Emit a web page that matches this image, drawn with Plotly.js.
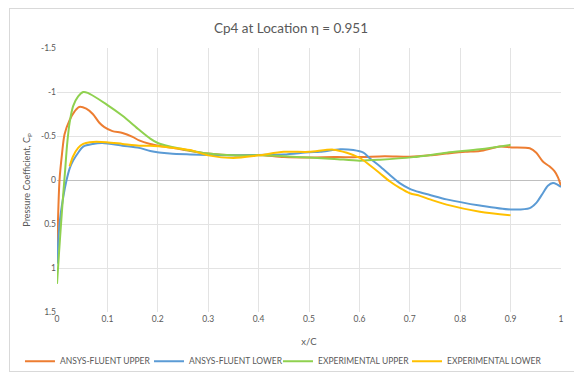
<!DOCTYPE html>
<html>
<head>
<meta charset="utf-8">
<script src="https://cdn.plot.ly/plotly-3.0.1.min.js"></script>
<style>
html,body{margin:0;padding:0;background:#fff;}
#chart{width:574px;height:375px;position:relative;}
#frame{position:absolute;left:9px;top:8px;width:570px;height:362px;border:1px solid #d9d9d9;pointer-events:none;}
</style>
</head>
<body>
<div style="position:relative;width:574px;height:375px;overflow:hidden;">
<div id="chart"></div>
<div id="frame"></div>
</div>
<script>
const fluentUpperX = [0, 0.002, 0.005, 0.01, 0.015, 0.025, 0.035, 0.044, 0.058, 0.071, 0.084, 0.094, 0.11, 0.13, 0.15, 0.163, 0.185, 0.202, 0.229, 0.264, 0.3, 0.35, 0.4, 0.45, 0.5, 0.55, 0.6, 0.65, 0.7, 0.74, 0.773, 0.81, 0.839, 0.879, 0.902, 0.938, 0.951, 0.964, 0.977, 0.987, 0.994, 1.0];
const fluentUpperCp = [0.91, 0.45, 0.0, -0.3, -0.52, -0.68, -0.78, -0.83, -0.81, -0.75, -0.65, -0.6, -0.555, -0.535, -0.49, -0.45, -0.41, -0.39, -0.365, -0.33, -0.3, -0.28, -0.285, -0.26, -0.255, -0.26, -0.26, -0.27, -0.265, -0.28, -0.3, -0.32, -0.33, -0.38, -0.37, -0.36, -0.31, -0.21, -0.155, -0.1, -0.03, 0.07];

const fluentLowerX = [0, 0.005, 0.0125, 0.019, 0.025, 0.032, 0.042, 0.052, 0.071, 0.09, 0.13, 0.163, 0.185, 0.224, 0.264, 0.3, 0.35, 0.4, 0.45, 0.5, 0.522, 0.562, 0.588, 0.608, 0.62, 0.64, 0.66, 0.68, 0.7, 0.72, 0.74, 0.773, 0.839, 0.9, 0.938, 0.951, 0.964, 0.974, 0.984, 0.992, 1.0];
const fluentLowerCp = [0.95, 0.5, 0.19, 0.0, -0.13, -0.22, -0.31, -0.38, -0.41, -0.42, -0.39, -0.365, -0.33, -0.30, -0.29, -0.285, -0.28, -0.285, -0.29, -0.315, -0.32, -0.35, -0.34, -0.31, -0.25, -0.16, -0.06, 0.035, 0.10, 0.14, 0.17, 0.22, 0.29, 0.335, 0.32, 0.26, 0.15, 0.065, 0.035, 0.05, 0.08];

const expUpperX = [0, 0.004, 0.008, 0.0125, 0.016, 0.02, 0.025, 0.032, 0.042, 0.052, 0.061, 0.098, 0.13, 0.163, 0.185, 0.2, 0.224, 0.25, 0.3, 0.35, 0.4, 0.45, 0.5, 0.55, 0.6, 0.641, 0.707, 0.773, 0.839, 0.9];
const expUpperCp = [1.18, 0.83, 0.5, 0.15, -0.1, -0.4, -0.65, -0.84, -0.95, -1.0, -0.99, -0.86, -0.73, -0.57, -0.47, -0.42, -0.38, -0.35, -0.3, -0.28, -0.28, -0.27, -0.255, -0.24, -0.22, -0.23, -0.26, -0.31, -0.35, -0.4];

const expLowerX = [0.025, 0.032, 0.042, 0.052, 0.065, 0.098, 0.13, 0.163, 0.185, 0.224, 0.264, 0.3, 0.35, 0.4, 0.45, 0.5, 0.548, 0.575, 0.601, 0.62, 0.64, 0.66, 0.68, 0.7, 0.72, 0.74, 0.773, 0.839, 0.9];
const expLowerCp = [-0.155, -0.27, -0.365, -0.41, -0.43, -0.43, -0.41, -0.39, -0.39, -0.37, -0.34, -0.28, -0.25, -0.28, -0.32, -0.32, -0.345, -0.31, -0.25, -0.17, -0.08, 0.015, 0.09, 0.15, 0.18, 0.22, 0.28, 0.36, 0.4];

const seriesNames = ["ANSYS-FLUENT UPPER", "ANSYS-FLUENT LOWER", "EXPERIMENTAL UPPER", "EXPERIMENTAL LOWER"];
const xTicks = [0, 0.1, 0.2, 0.3, 0.4, 0.5, 0.6, 0.7, 0.8, 0.9, 1];
const xTickText = ["0", "0.1", "0.2", "0.3", "0.4", "0.5", "0.6", "0.7", "0.8", "0.9", "1"];
const yTicks = [-1.5, -1, -0.5, 0, 0.5, 1, 1.5];
const yTickText = ["-1.5", "-1", "-0.5", "0", "0.5", "1", "1.5"];

const colors = ["#ED7D31", "#5B9BD5", "#8FD14F", "#FFC000"];
const xs = [fluentUpperX, fluentLowerX, expUpperX, expLowerX];
const ys = [fluentUpperCp, fluentLowerCp, expUpperCp, expLowerCp];
const legendIds = ['legend', 'legend2', 'legend3', 'legend4'];
const legendLeft = [0.0348, 0.2596, 0.4843, 0.7091];

const traces = seriesNames.map((n, i) => ({
  x: xs[i], y: ys[i], name: n, type: 'scatter', mode: 'lines', legend: legendIds[i],
  line: {color: colors[i], width: 2, shape: 'spline', smoothing: 0.8}
}));

const font = "Lato, 'Open Sans', sans-serif";
const layout = {
  width: 574, height: 375,
  margin: {l: 57, r: 13, t: 48, b: 63},
  paper_bgcolor: 'rgba(0,0,0,0)', plot_bgcolor: 'rgba(0,0,0,0)',
  font: {family: font, color: '#595959', size: 9},
  title: {text: 'Cp4 at Location η = 0.951', font: {size: 13.5, color: '#595959', family: font}, x: 0.507, xanchor: 'center', y: 0.925, yanchor: 'middle'},
  xaxis: {
    range: [0, 1], tickvals: xTicks, ticktext: xTickText,
    showgrid: true, gridcolor: '#e3e3e3', gridwidth: 1,
    zeroline: false, showline: false, ticks: '',
    tickfont: {size: 8.5, color: '#595959'},
    title: {text: 'x/C', font: {size: 9.5, color: '#595959'}, standoff: 19},
    fixedrange: true
  },
  yaxis: {
    range: [1.5, -1.5], tickvals: yTicks, ticktext: yTickText,
    showgrid: true, gridcolor: '#e3e3e3', gridwidth: 1,
    zeroline: true, zerolinecolor: '#bfbfbf', zerolinewidth: 1,
    showline: false, ticks: '',
    tickfont: {size: 8.5, color: '#595959'},
    title: {text: 'Pressure Coefficient, C<sub>P</sub>', font: {size: 9, color: '#595959'}, standoff: 8},
    fixedrange: true
  },
  showlegend: true
};
legendIds.forEach((id, i) => {
  layout[id] = {orientation: 'h', xref: 'container', yref: 'container', x: legendLeft[i], xanchor: 'left',
    y: 0.037, yanchor: 'middle', font: {size: 8.5, color: '#595959'}, itemwidth: 30,
    bgcolor: 'rgba(0,0,0,0)', borderwidth: 0};
});

Plotly.newPlot('chart', traces, layout, {displayModeBar: false, staticPlot: true});
</script>
</body>
</html>
